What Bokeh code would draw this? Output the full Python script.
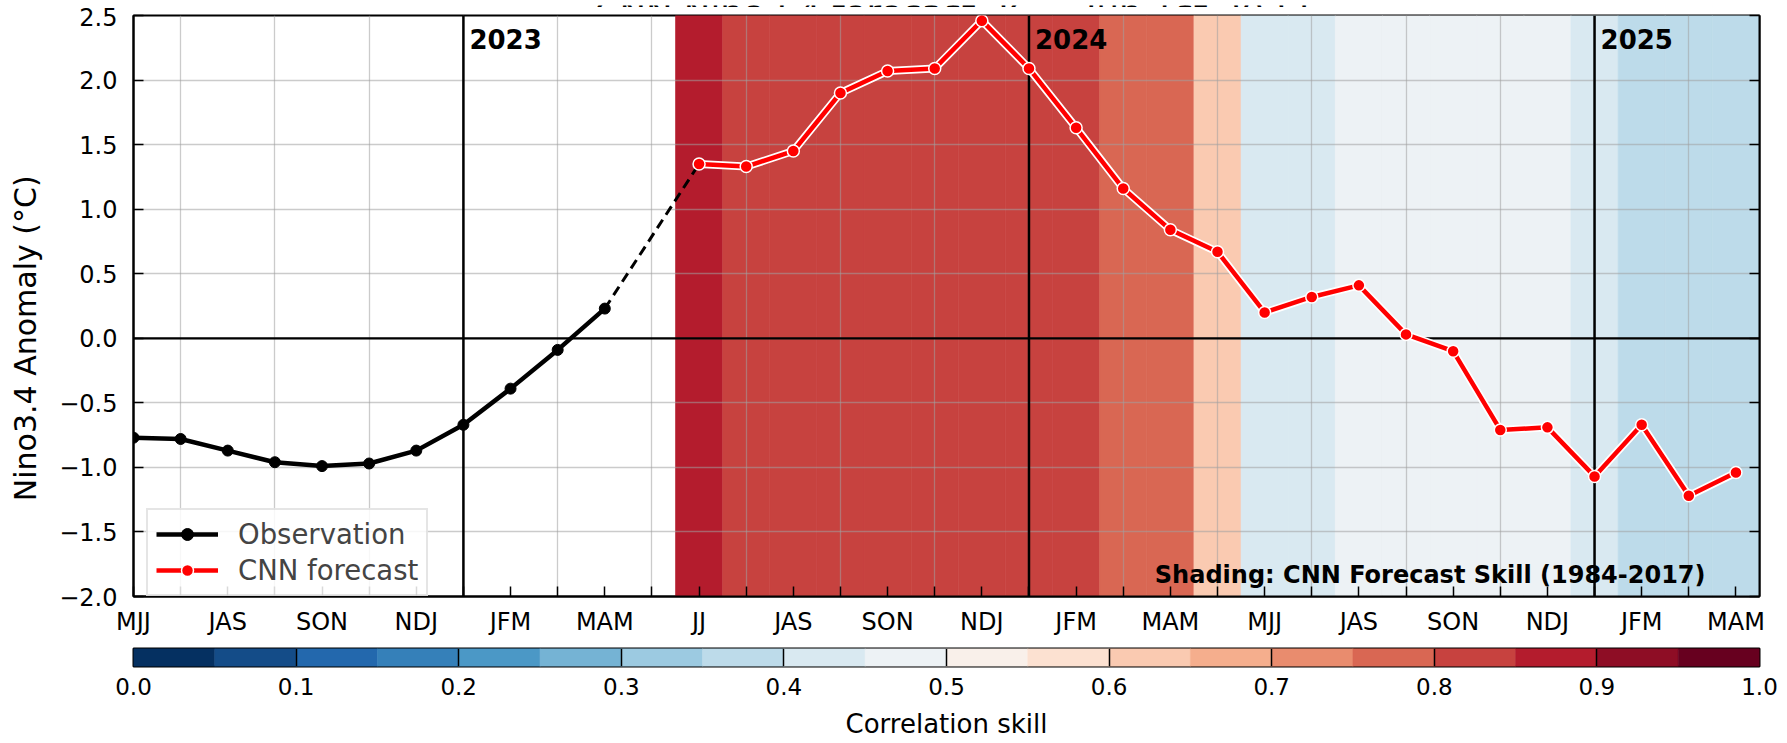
import numpy as np
from bokeh.plotting import figure
from bokeh.models import (ColumnDataSource, Range1d, FixedTicker, Span, Label,
                          Legend, LegendItem, LinearAxis, LinearColorMapper,
                          CustomJSTickFormatter)
from bokeh.layouts import column, row
from bokeh.embed import file_html
from bokeh.resources import INLINE

# ---------------- data ----------------
seasons = ["MJJ", "JJA", "JAS", "ASO", "SON", "OND", "NDJ", "DJF", "JFM", "FMA", "MAM", "AMJ"]
x_tick_labels = ["MJJ", "JAS", "SON", "NDJ", "JFM", "MAM", "JJ", "JAS", "SON",
                 "NDJ", "JFM", "MAM", "MJJ", "JAS", "SON", "NDJ", "JFM", "MAM"]
years = ["2023", "2024", "2025"]
obs_start = 0
obs_anom = [-0.77, -0.78, -0.87, -0.96, -0.99, -0.97, -0.87, -0.67, -0.39, -0.09, 0.23]
fcst_start = 12
fcst_anom = [1.35, 1.33, 1.45, 1.90, 2.07, 2.09, 2.46, 2.09, 1.63, 1.16, 0.84, 0.67,
             0.20, 0.32, 0.41, 0.03, -0.10, -0.71, -0.69, -1.07, -0.67, -1.22, -1.04]
fcst_skill = [0.87, 0.82, 0.82, 0.82, 0.82, 0.82, 0.82, 0.82, 0.82, 0.77, 0.77, 0.62,
              0.42, 0.42, 0.47, 0.47, 0.47, 0.47, 0.47, 0.42, 0.37, 0.37, 0.37]
y_ticks = [-2.0, -1.5, -1.0, -0.5, 0.0, 0.5, 1.0, 1.5, 2.0, 2.5]
cbar_ticks = [0.0, 0.1, 0.2, 0.3, 0.4, 0.5, 0.6, 0.7, 0.8, 0.9, 1.0]
title_text = "CNN Nino3.4 forecast, IC = Jun 1st 2023"
ylabel_text = "Nino3.4 Anomaly (°C)"
shading_text = "Shading: CNN Forecast Skill (1984-2017)"
cbar_label = "Correlation skill"

# ---------------- derived ----------------
obs_x = list(range(obs_start, obs_start + len(obs_anom)))
fcst_x = list(range(fcst_start, fcst_start + len(fcst_anom)))
n_months = fcst_start + len(fcst_anom)
month_names = [seasons[i % 12] for i in range(n_months)]
year_idx = [i for i, s in enumerate(month_names) if s == "DJF"]
x_min, x_max = 0.0, n_months - 0.5
y_min, y_max = y_ticks[0], y_ticks[-1]
major_x = list(range(0, n_months, 2))
minor_x = list(range(1, n_months, 2))

# RdBu_r, 20 discrete bins
anchors = ["#053061", "#2166ac", "#4393c3", "#92c5de", "#d1e5f0", "#f7f7f7",
           "#fddbc7", "#f4a582", "#d6604d", "#b2182b", "#67001f"]


def _rgb(h):
    return [int(h[i:i + 2], 16) for i in (1, 3, 5)]


def _interp(t):
    s = t * (len(anchors) - 1)
    i = min(int(s), len(anchors) - 2)
    f = s - i
    c0, c1 = _rgb(anchors[i]), _rgb(anchors[i + 1])
    c = [round(a + (b - a) * f) for a, b in zip(c0, c1)]
    return "#%02x%02x%02x" % tuple(c)


n_bins = 20
palette = [_interp(i / (n_bins - 1)) for i in range(n_bins)]
mapper = LinearColorMapper(palette=palette, low=0.0, high=1.0)

FONT = "DejaVu Sans"
W = 1780            # total width
LEFT = 133          # frame left (page px)
FRAME_R = 1759      # frame right (page px)
RIGHT = W - FRAME_R
FRAME_T = 15        # frame top (page px)
TITLE_H = 7         # strip holding the (cropped) title
YLAB_W = 55         # strip holding the y-axis title
MAIN_H = 631

y_range = Range1d(y_min, y_max)


def bare(fig):
    fig.grid.visible = False
    fig.outline_line_color = None
    fig.background_fill_color = "white"
    fig.border_fill_color = "white"
    return fig


# ---------------- title strip (title is cropped by the page top, as in the original) ----------------
tfig = bare(figure(width=W, height=TITLE_H, x_range=Range1d(0, W), y_range=Range1d(0, TITLE_H),
                   x_axis_location=None, y_axis_location=None, output_backend="svg",
                   toolbar_location=None, min_border_left=0, min_border_right=0,
                   min_border_top=0, min_border_bottom=0))
tfig.add_layout(Label(x=(LEFT + FRAME_R) / 2 - 50, y=0.5, text=title_text,
                      text_align="center", text_baseline="alphabetic",
                      text_font=FONT, text_font_size="35.5px", text_color="black"))

# ---------------- y label strip ----------------
yfig = bare(figure(width=YLAB_W, height=MAIN_H, x_range=Range1d(0, YLAB_W), y_range=y_range,
                   x_axis_location=None, y_axis_location=None, output_backend="svg",
                   toolbar_location=None, min_border_left=0, min_border_right=0,
                   min_border_top=FRAME_T - TITLE_H, min_border_bottom=40))
yfig.add_layout(Label(x=24.5, y=0.0, text=ylabel_text, angle=np.pi / 2,
                      text_align="center", text_baseline="middle", text_font=FONT,
                      text_font_size="30px", text_color="black"))

# ---------------- main figure ----------------
p = figure(width=W - YLAB_W, height=MAIN_H, x_range=Range1d(x_min, x_max), y_range=y_range,
           output_backend="svg", toolbar_location=None,
           min_border_left=LEFT - YLAB_W, min_border_right=RIGHT,
           min_border_top=FRAME_T - TITLE_H, min_border_bottom=40)
p.background_fill_color = "white"
p.border_fill_color = "white"
p.outline_line_color = "black"
p.outline_line_width = 2

# skill shading
shade_src = ColumnDataSource(dict(x=fcst_x, skill=fcst_skill))
shade = p.vbar(x="x", width=1.0, top=y_max, bottom=y_min, source=shade_src,
               fill_color={"field": "skill", "transform": mapper},
               line_color={"field": "skill", "transform": mapper}, line_width=0.6)
shade.level = "image"

# grids
p.xgrid.ticker = FixedTicker(ticks=minor_x)
p.ygrid.ticker = FixedTicker(ticks=y_ticks)
for g in (p.xgrid[0], p.ygrid[0]):
    g.grid_line_color = "#a0a0a0"
    g.grid_line_alpha = 0.55
    g.grid_line_width = 1.3

# axes
xa = p.xaxis[0]
xa.ticker = FixedTicker(ticks=major_x, minor_ticks=minor_x)
xa.major_label_overrides = {t: lab for t, lab in zip(major_x, x_tick_labels)}
ya = p.yaxis[0]
ya.ticker = FixedTicker(ticks=y_ticks, minor_ticks=[])
ya.formatter = CustomJSTickFormatter(code="return tick.toFixed(1).replace('-', '\u2212');")
ra = LinearAxis(ticker=FixedTicker(ticks=y_ticks, minor_ticks=[]),
                formatter=CustomJSTickFormatter(code="return '';"))
p.add_layout(ra, "right")
for ax in (xa, ya, ra):
    ax.axis_line_width = 2
    ax.axis_line_color = "black"
    ax.major_tick_in = 10
    ax.major_tick_out = 0
    ax.minor_tick_in = 10
    ax.minor_tick_out = 0
    ax.major_tick_line_width = 1.5
    ax.minor_tick_line_width = 1.5
    ax.major_label_text_font = FONT
    ax.major_label_text_font_size = "24px"
    ax.major_label_text_color = "black"
xa.major_label_standoff = 11
ya.major_label_standoff = 16
ra.major_label_standoff = 0

# reference lines
p.add_layout(Span(location=0.0, dimension="width", line_color="black", line_width=2.2, level="underlay"))
for yi in year_idx:
    p.add_layout(Span(location=yi, dimension="height", line_color="black", line_width=2.5, level="underlay"))

# observation
obs_line = p.line(obs_x, obs_anom, line_color="black", line_width=4.5)
obs_pts = p.scatter(obs_x, obs_anom, size=11, fill_color="black", line_color="black")
# link obs -> forecast
p.line([obs_x[-1], fcst_x[0]], [obs_anom[-1], fcst_anom[0]], line_color="black",
       line_width=3, line_dash="10 6")
# forecast (white halo + red)
p.line(fcst_x, fcst_anom, line_color="white", line_width=8)
fc_line = p.line(fcst_x, fcst_anom, line_color="red", line_width=4.5)
fc_pts = p.scatter(fcst_x, fcst_anom, size=12, fill_color="red", line_color="white", line_width=1.5)

legend = Legend(items=[LegendItem(label="Observation", renderers=[obs_line, obs_pts]),
                       LegendItem(label="CNN forecast", renderers=[fc_line, fc_pts])],
                location=(13, 0))
legend.label_text_font = FONT
legend.label_text_font_size = "27.5px"
legend.glyph_width = 62
legend.glyph_height = 30
legend.label_height = 30
legend.label_standoff = 20
legend.padding = 8
legend.spacing = 4
legend.margin = 0
legend.border_line_color = "#cccccc"
legend.border_line_width = 2
legend.background_fill_alpha = 0.85
p.add_layout(legend)

# texts inside the frame
for yi, yr in zip(year_idx, years):
    p.add_layout(Label(x=yi, y=y_max, x_offset=6, y_offset=-23, text=yr,
                       text_align="left", text_baseline="middle", text_font=FONT,
                       text_font_size="26px", text_font_style="bold", text_color="black"))
p.add_layout(Label(x=x_max, y=y_min, x_offset=-54, y_offset=22, text=shading_text,
                   text_align="right", text_baseline="middle", text_font=FONT,
                   text_font_size="24px", text_font_style="bold", text_color="black"))

# ---------------- colorbar figure ----------------
edges = np.linspace(0.0, 1.0, n_bins + 1)
cb_src = ColumnDataSource(dict(left=edges[:-1], right=edges[1:],
                               mid=(edges[:-1] + edges[1:]) / 2))
cb = figure(width=W, height=103, x_range=Range1d(0, 1), y_range=Range1d(0, 1),
            output_backend="svg", toolbar_location=None,
            min_border_left=LEFT, min_border_right=RIGHT, min_border_top=10, min_border_bottom=74)
cbq = cb.quad(left="left", right="right", bottom=0, top=1, source=cb_src,
              fill_color={"field": "mid", "transform": mapper},
              line_color={"field": "mid", "transform": mapper}, line_width=0.6)
cbq.level = "image"
cb.outline_line_color = "black"
cb.outline_line_width = 2
cb.yaxis.visible = False
cb.ygrid.visible = False
cb.xgrid.ticker = FixedTicker(ticks=cbar_ticks[1:-1])
cb.xgrid.grid_line_color = "black"
cb.xgrid.grid_line_width = 1.5
cb.xgrid.grid_line_alpha = 1.0
cxa = cb.xaxis[0]
cxa.ticker = FixedTicker(ticks=cbar_ticks, minor_ticks=[])
cxa.formatter = CustomJSTickFormatter(code="return tick.toFixed(1);")
cxa.axis_line_color = None
cxa.major_tick_in = 0
cxa.major_tick_out = 0
cxa.minor_tick_line_color = None
cxa.major_label_text_font = FONT
cxa.major_label_text_font_size = "23px"
cxa.major_label_text_color = "black"
cxa.major_label_standoff = 11
cxa.axis_label = cbar_label
cxa.axis_label_text_font = FONT
cxa.axis_label_text_font_size = "26px"
cxa.axis_label_text_font_style = "normal"
cxa.axis_label_text_color = "black"
cxa.axis_label_standoff = 11

layout = column(tfig, row(yfig, p, spacing=0), cb, spacing=0)

open("out.html", "w").write(file_html(layout, INLINE))
